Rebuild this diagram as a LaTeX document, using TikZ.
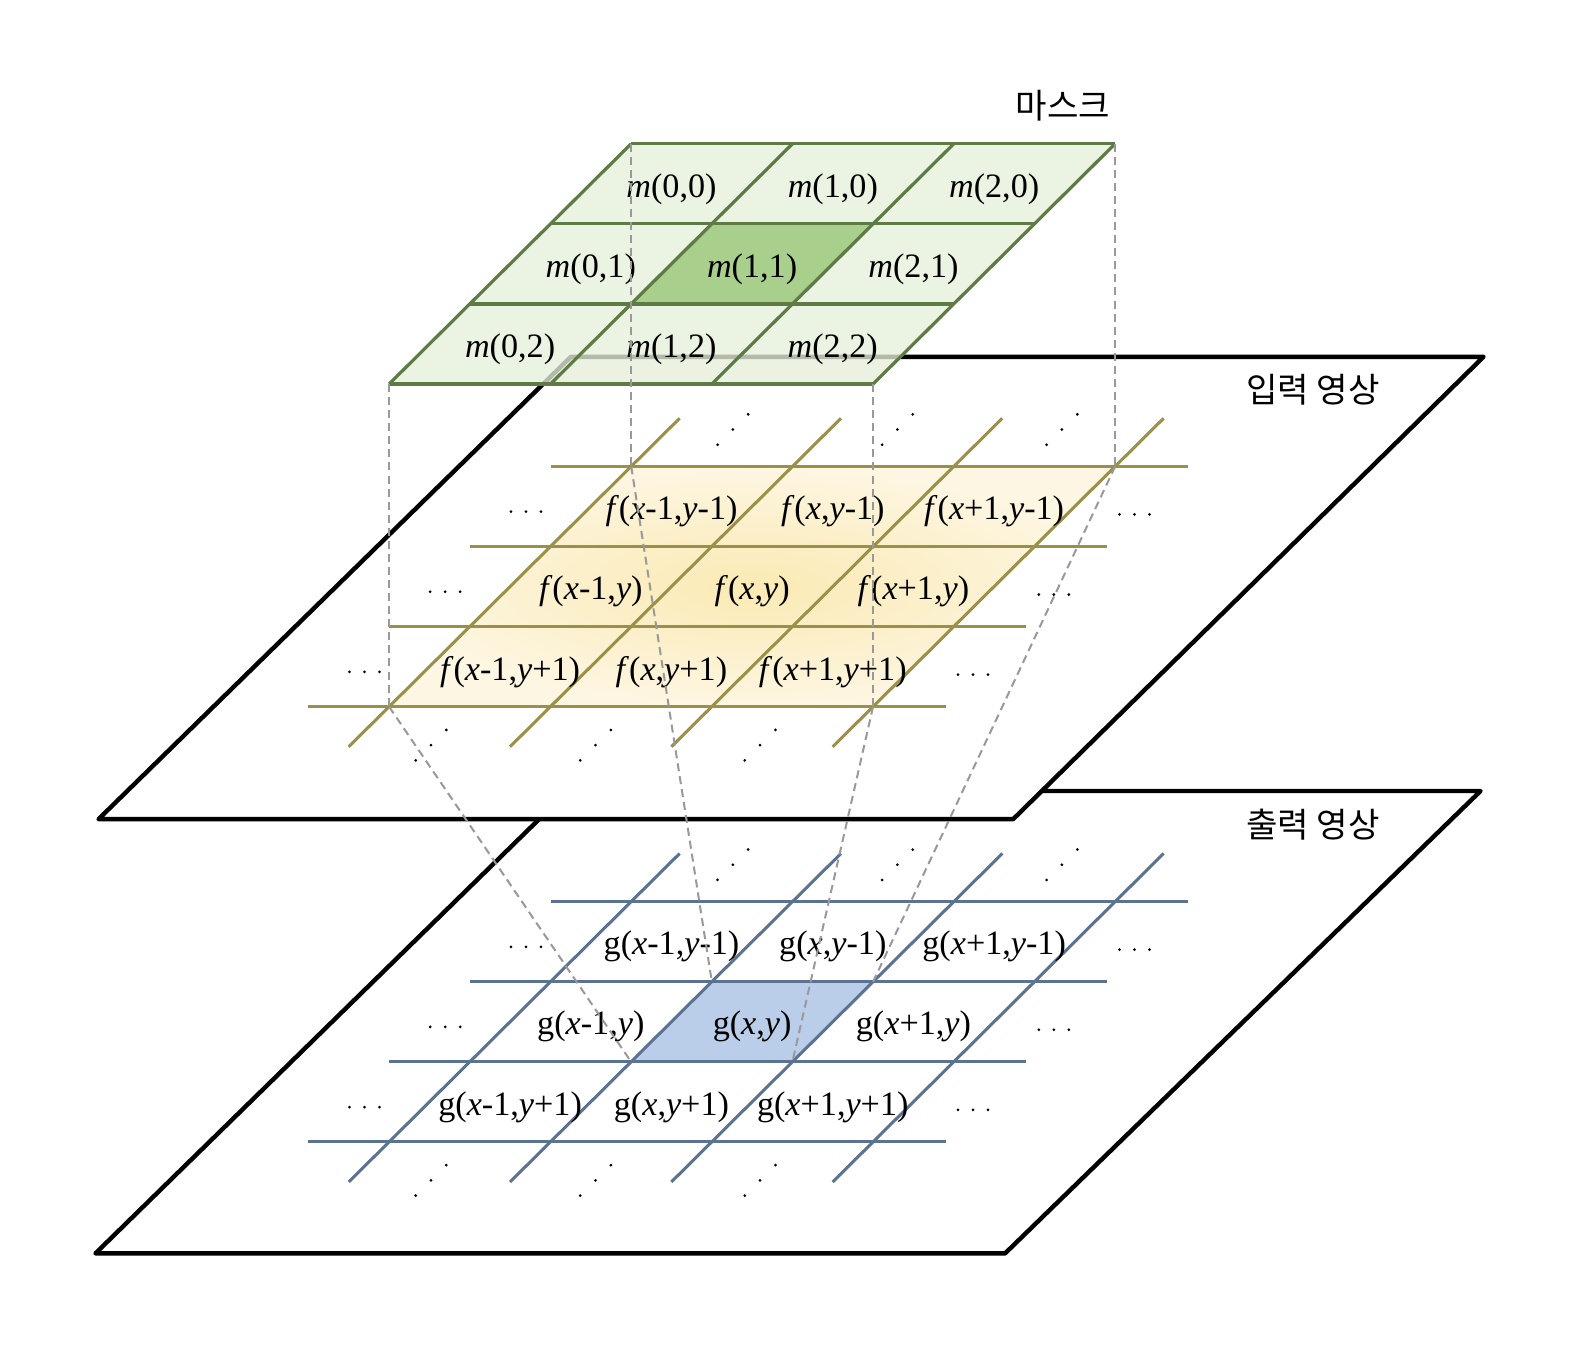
\documentclass[tikz,border=0pt]{standalone}
\usepackage{fontspec}
\setmainfont{Liberation Serif}
\newfontfamily\krfont{Noto Sans CJK KR}
\definecolor{maskline}{HTML}{5E7A45}
\definecolor{maskfill}{HTML}{E6EFDA}
\definecolor{maskmid}{HTML}{A9CF8C}
\definecolor{fline}{HTML}{9A9048}
\definecolor{fin}{HTML}{FBEAB4}
\definecolor{fout}{HTML}{FDF6E2}
\definecolor{gline}{HTML}{5B7391}
\definecolor{gmid}{HTML}{BACEEA}
\usetikzlibrary{calc}

\tikzset{
  plane/.style={draw=black, fill=white, line width=2.2pt},
  lbl/.style={font=\fontsize{17}{20}\selectfont, inner sep=0pt, yshift=-2.5pt},
  title/.style={font=\krfont\fontsize{17}{20}\selectfont, inner sep=0pt},
  proj/.style={draw=gray!80, dash pattern=on 4pt off 2.5pt, line width=1pt},
}
\newcommand{\vx}{\textit{x}}
\newcommand{\vy}{\textit{y}}

\begin{document}
\begin{tikzpicture}[x=0.5pt, y=-0.5pt, line join=round]
  \useasboundingbox (0,0) rectangle (1568,1353);

  % output image plane
  \draw[plane] (95,1247) -- (1000,1247) -- (1473,787) -- (565,787) -- cycle;
  \node[title, anchor=east] (outtitle) at (1373,820) {출력 영상};

  % output grid g, one unit = one pixel cell
  \begin{scope}[shift={(628,897)}, x={(80.25pt,0pt)}, y={(-40.15pt,-39.85pt)}]
    \fill[gmid] (1,1) -- (2,1) -- (2,2) -- (1,2) -- cycle;
    \foreach \r in {0,...,3}
      \draw[gline, line width=1.5pt] (-0.5,\r) -- (3.45,\r);
    \foreach \c in {0,...,3}
      \draw[gline, line width=1.5pt] (\c,-0.6) -- (\c,3.5);
    \coordinate (g-tl) at (1,1);
    \coordinate (g-tr) at (2,1);
    \coordinate (g-bl) at (1,2);
    \coordinate (g-br) at (2,2);

    \node[lbl] (g00) at (0.5,0.5) {g(\vx-1,\vy-1)};
    \node[lbl] (g10) at (1.5,0.5) {g(\vx,\vy-1)};
    \node[lbl] (g20) at (2.5,0.5) {g(\vx+1,\vy-1)};
    \node[lbl] (g01) at (0.5,1.5) {g(\vx-1,\vy)};
    \node[lbl] (g11) at (1.5,1.5) {g(\vx,\vy)};
    \node[lbl] (g21) at (2.5,1.5) {g(\vx+1,\vy)};
    \node[lbl] (g02) at (0.5,2.5) {g(\vx-1,\vy+1)};
    \node[lbl] (g12) at (1.5,2.5) {g(\vx,\vy+1)};
    \node[lbl] (g22) at (2.5,2.5) {g(\vx+1,\vy+1)};

    % ellipsis dots around the grid
    \foreach \r in {0,1,2} {
      \foreach \d in {-1,0,1} {
        \fill (-0.37+0.093*\d, \r+0.565) circle (0.75pt);
        \fill (3.42+0.093*\d, \r+0.6) circle (0.75pt);
      }
    }
    \foreach \c in {0,1,2} {
      \foreach \d in {-1,0,1} {
        \fill (0.4+1.02*\c, -0.46+0.19*\d) circle (0.75pt);
        \fill (0.5+1.02*\c, 3.48+0.19*\d) circle (0.75pt);
      }
    }
  \end{scope}

  % input image plane
  \draw[plane] (98,815) -- (1008,815) -- (1476,355) -- (568,355) -- cycle;
  \node[title, anchor=east] (intitle) at (1373,388) {입력 영상};

  % input grid f
  \begin{scope}[shift={(628,464)}, x={(80.25pt,0pt)}, y={(-40.15pt,-39.85pt)}]
    \shade[inner color=fin, outer color=fout] (0,0) -- (3,0) -- (3,3) -- (0,3) -- cycle;
    \foreach \r in {0,...,3}
      \draw[fline, line width=1.5pt] (-0.5,\r) -- (3.45,\r);
    \foreach \c in {0,...,3}
      \draw[fline, line width=1.5pt] (\c,-0.6) -- (\c,3.5);
    \coordinate (f-tl) at (0,0);
    \coordinate (f-tr) at (3,0);
    \coordinate (f-bl) at (0,3);
    \coordinate (f-br) at (3,3);

    \node[lbl] (f00) at (0.5,0.5) {\textit{f}(\vx-1,\vy-1)};
    \node[lbl] (f10) at (1.5,0.5) {\textit{f}(\vx,\vy-1)};
    \node[lbl] (f20) at (2.5,0.5) {\textit{f}(\vx+1,\vy-1)};
    \node[lbl] (f01) at (0.5,1.5) {\textit{f}(\vx-1,\vy)};
    \node[lbl] (f11) at (1.5,1.5) {\textit{f}(\vx,\vy)};
    \node[lbl] (f21) at (2.5,1.5) {\textit{f}(\vx+1,\vy)};
    \node[lbl] (f02) at (0.5,2.5) {\textit{f}(\vx-1,\vy+1)};
    \node[lbl] (f12) at (1.5,2.5) {\textit{f}(\vx,\vy+1)};
    \node[lbl] (f22) at (2.5,2.5) {\textit{f}(\vx+1,\vy+1)};

    % ellipsis dots around the grid
    \foreach \r in {0,1,2} {
      \foreach \d in {-1,0,1} {
        \fill (-0.37+0.093*\d, \r+0.565) circle (0.75pt);
        \fill (3.42+0.093*\d, \r+0.6) circle (0.75pt);
      }
    }
    \foreach \c in {0,1,2} {
      \foreach \d in {-1,0,1} {
        \fill (0.4+1.02*\c, -0.46+0.19*\d) circle (0.75pt);
        \fill (0.5+1.02*\c, 3.48+0.19*\d) circle (0.75pt);
      }
    }
  \end{scope}

  % 3x3 mask, slightly see-through
  \begin{scope}[shift={(628,143)}, x={(80.25pt,0pt)}, y={(-40.15pt,-39.85pt)}]
    \fill[maskfill, fill opacity=0.78] (0,0) -- (3,0) -- (3,3) -- (0,3) -- cycle;
    \fill[maskmid] (1,1) -- (2,1) -- (2,2) -- (1,2) -- cycle;
    \foreach \k in {0,...,3} {
      \draw[maskline, line width=1.6pt] (0,\k) -- (3,\k);
      \draw[maskline, line width=1.6pt] (\k,0) -- (\k,3);
    }
    \coordinate (m-tl) at (0,0);
    \coordinate (m-tr) at (3,0);
    \coordinate (m-bl) at (0,3);
    \coordinate (m-br) at (3,3);

    \node[lbl] (m00) at (0.5,0.5) {\textit{m}(0,0)};
    \node[lbl] (m10) at (1.5,0.5) {\textit{m}(1,0)};
    \node[lbl] (m20) at (2.5,0.5) {\textit{m}(2,0)};
    \node[lbl] (m01) at (0.5,1.5) {\textit{m}(0,1)};
    \node[lbl] (m11) at (1.5,1.5) {\textit{m}(1,1)};
    \node[lbl] (m21) at (2.5,1.5) {\textit{m}(2,1)};
    \node[lbl] (m02) at (0.5,2.5) {\textit{m}(0,2)};
    \node[lbl] (m12) at (1.5,2.5) {\textit{m}(1,2)};
    \node[lbl] (m22) at (2.5,2.5) {\textit{m}(2,2)};
  \end{scope}
  \node[title, anchor=east] (masktitle) at (1105,105) {마스크};

  % projection lines: mask -> input -> output pixel
  \draw[proj] (m-tl) -- (f-tl);
  \draw[proj] (m-tr) -- (f-tr);
  \draw[proj] (m-bl) -- (f-bl);
  \draw[proj] (m-br) -- (f-br);
  \draw[proj] (f-tl) -- (g-tl);
  \draw[proj] (f-tr) -- (g-tr);
  \draw[proj] (f-bl) -- (g-bl);
  \draw[proj] (f-br) -- (g-br);
\end{tikzpicture}
\end{document}
